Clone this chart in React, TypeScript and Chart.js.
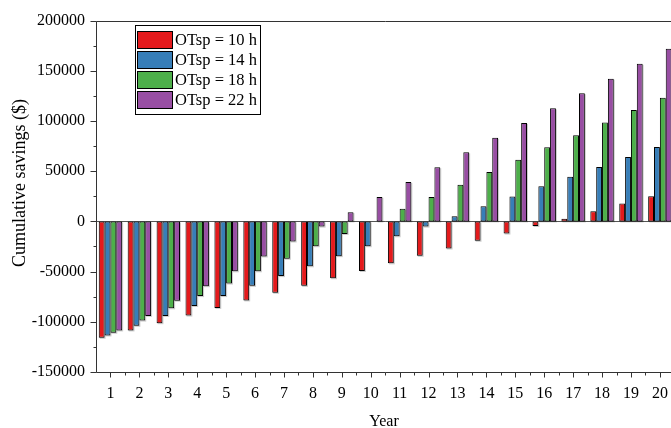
import React, { useEffect, useRef } from "react";
import { Chart, registerables } from "chart.js";

Chart.register(...registerables);

const years = ["1", "2", "3", "4", "5", "6", "7", "8", "9", "10", "11", "12", "13", "14", "15", "16", "17", "18", "19", "20"];
const seriesLabels = ["OTsp = 10 h", "OTsp = 14 h", "OTsp = 18 h", "OTsp = 22 h"];
const ot10 = [-115900, -108600, -101400, -93800, -86200, -78700, -71100, -64200, -56600, -49400, -41800, -34300, -27000, -19300, -12100, -4600, 2700, 10200, 17800, 25000];
const ot14 = [-113600, -104000, -94100, -84200, -74400, -64200, -54500, -44700, -34600, -24700, -14800, -5200, 5200, 15100, 24700, 34900, 44400, 54300, 64200, 74100];
const ot18 = [-110900, -98800, -86600, -74400, -61900, -49700, -37200, -24700, -12500, 0, 12500, 24400, 36500, 49100, 61500, 73800, 85900, 98500, 110900, 123200];
const ot22 = [-108600, -94100, -79000, -64500, -49700, -34900, -20000, -5200, 9200, 24400, 39200, 54000, 68800, 83300, 98100, 112600, 127700, 142200, 157000, 171900];
const colors = ["#E41A1C", "#377EB8", "#4DAF4A", "#984EA3"];
const yTicks = [-150000, -100000, -50000, 0, 50000, 100000, 150000, 200000];
const xTitle = "Year";
const yTitle = "Cumulative savings ($)";

const W = 680;
const H = 428;
const LEFT = 96;
const RIGHT = 675;
const TOP = 17;
const BOTTOM = 372;
const FONT_FAMILY = '"Liberation Serif", "Times New Roman", serif';
const FS = 16;

const decorPlugin = {
  id: "decor",
  beforeDatasetsDraw(chart: any) {
    const { ctx, chartArea, scales } = chart;
    const y0 = Math.round(scales.y.getPixelForValue(0)) + 0.5;
    ctx.save();
    ctx.strokeStyle = "#555";
    ctx.lineWidth = 1;
    ctx.beginPath();
    ctx.moveTo(chartArea.left, y0);
    ctx.lineTo(chartArea.right, y0);
    ctx.stroke();
    // bar shadows
    ctx.fillStyle = "rgba(0,0,0,0.2)";
    chart.data.datasets.forEach((_: any, i: number) => {
      const meta = chart.getDatasetMeta(i);
      meta.data.forEach((bar: any) => {
        const p = bar.getProps(["x", "y", "base", "width"], true);
        const top = Math.min(p.y, p.base);
        const h = Math.abs(p.base - p.y);
        if (h < 0.5) return;
        ctx.fillRect(p.x - p.width / 2 + 1, top + 1, p.width, h);
      });
    });
    ctx.restore();
  },
  afterDraw(chart: any) {
    const { ctx, chartArea, scales } = chart;
    const l = Math.round(chartArea.left) + 0.5;
    const b = Math.round(chartArea.bottom) + 0.5;
    const t = Math.round(chartArea.top) + 0.5;
    ctx.save();
    ctx.strokeStyle = "#333";
    ctx.lineWidth = 1;
    ctx.beginPath();
    ctx.moveTo(l, t);
    ctx.lineTo(l, b);
    ctx.moveTo(l, b);
    ctx.lineTo(chartArea.right, b);
    ctx.moveTo(l, t);
    ctx.lineTo(chartArea.right, t);
    const ys = scales.y;
    for (let v = -150000; v <= 200000; v += 25000) {
      const py = Math.round(ys.getPixelForValue(v)) + 0.5;
      const len = v % 50000 === 0 ? 6 : 3;
      ctx.moveTo(l - len, py);
      ctx.lineTo(l, py);
    }
    const xs = scales.x;
    const n = years.length;
    const cw = (chartArea.right - chartArea.left) / n;
    for (let i = 0; i < n; i++) {
      const cx = Math.round(xs.getPixelForValue(i)) + 0.5;
      ctx.moveTo(cx, b);
      ctx.lineTo(cx, b + 5);
      const bx = Math.round(chartArea.left + cw * (i + 1)) + 0.5;
      if (bx < chartArea.right) {
        ctx.moveTo(bx, b);
        ctx.lineTo(bx, b + 3);
      }
    }
    ctx.stroke();

    ctx.fillStyle = "#000";
    ctx.font = `${FS}px ${FONT_FAMILY}`;
    ctx.textAlign = "center";
    ctx.textBaseline = "alphabetic";
    ctx.fillText(xTitle, 384, 426);
    ctx.save();
    ctx.translate(25, 183);
    ctx.rotate(-Math.PI / 2);
    ctx.font = `18px ${FONT_FAMILY}`;
    ctx.fillText(yTitle, 0, 0);
    ctx.restore();

    const lx = 135.5, ly = 25.5, lw = 125, lh = 89;
    ctx.fillStyle = "#fff";
    ctx.fillRect(lx, ly, lw, lh);
    ctx.strokeStyle = "#000";
    ctx.strokeRect(lx, ly, lw, lh);
    ctx.textAlign = "left";
    ctx.textBaseline = "middle";
    ctx.font = `16.5px ${FONT_FAMILY}`;
    seriesLabels.forEach((lab, i) => {
      const sy = 31 + 20 * i;
      ctx.fillStyle = colors[i];
      ctx.fillRect(137, sy, 36, 18);
      ctx.strokeStyle = "#000";
      ctx.strokeRect(137.5, sy + 0.5, 35, 17);
      ctx.fillStyle = "#000";
      ctx.fillText(lab, 175, sy + 9.5);
    });
    ctx.restore();
  },
};

export default function App() {
  const ref = useRef<HTMLCanvasElement | null>(null);
  useEffect(() => {
    if (!ref.current) return;
    const font = { family: FONT_FAMILY, size: FS };
    const series = [ot10, ot14, ot18, ot22];
    const chart = new Chart(ref.current, {
      type: "bar",
      data: {
        labels: years,
        datasets: series.map((d, i) => ({
          label: seriesLabels[i],
          data: d,
          backgroundColor: colors[i],
          borderColor: "#000",
          borderWidth: 1,
          borderSkipped: false,
          categoryPercentage: 0.81,
          barPercentage: 1,
        })),
      },
      options: {
        animation: false,
        responsive: false,
        maintainAspectRatio: false,
        layout: { padding: { top: TOP, right: W - RIGHT, left: 0, bottom: 0 } },
        plugins: { legend: { display: false }, tooltip: { enabled: false } },
        scales: {
          x: {
            grid: { display: false, drawTicks: false },
            border: { display: false },
            ticks: { font, color: "#000", padding: 12, maxRotation: 0, autoSkip: false },
            afterFit: (s: any) => {
              s.height = H - BOTTOM;
            },
          },
          y: {
            min: -150000,
            max: 200000,
            grid: { display: false, drawTicks: false },
            border: { display: false },
            ticks: { font, color: "#000", padding: 11, callback: (v: any) => String(v) },
            afterBuildTicks: (s: any) => {
              s.ticks = yTicks.map((v) => ({ value: v }));
            },
            afterFit: (s: any) => {
              s.width = LEFT;
            },
          },
        },
      },
      plugins: [decorPlugin],
    } as any);
    return () => chart.destroy();
  }, []);
  return (
    <div style={{ position: "fixed", left: 0, top: 0, width: 671, height: 428, overflow: "hidden", background: "#fff" }}>
      <canvas ref={ref} width={W} height={H} style={{ width: W, height: H, display: "block" }} />
    </div>
  );
}
